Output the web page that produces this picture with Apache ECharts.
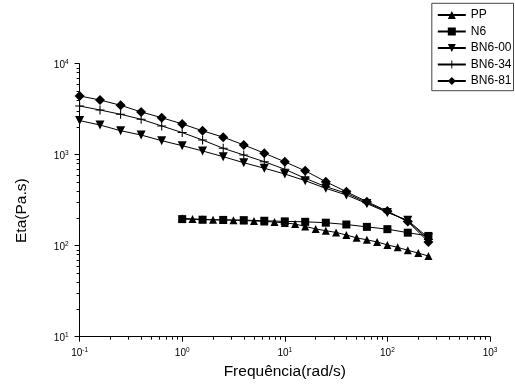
<!DOCTYPE html>
<html>
<head>
<meta charset="utf-8">
<script src="https://cdn.jsdelivr.net/npm/echarts@6/dist/echarts.min.js"></script>
<style>html,body{margin:0;padding:0;background:#fff;}#c{width:515px;height:392px;}</style>
</head>
<body>
<div id="c"></div>
<script>
// ---- data ----
const freqBN = [0.1, 0.158, 0.251, 0.398, 0.631, 1, 1.58, 2.51, 3.98, 6.31, 10, 15.8, 25.1, 39.8, 63.1, 100, 158, 251];
const bn6_81 = [4420, 3990, 3490, 2950, 2550, 2180, 1830, 1560, 1280, 1040, 835, 665, 505, 392, 305, 240, 184, 110];
const bn6_34 = [3430, 3100, 2780, 2450, 2070, 1750, 1450, 1175, 993, 838, 692, 550, 445, 377, 297, 236, 186, 117];
const bn6_00 = [2370, 2120, 1835, 1645, 1425, 1257, 1099, 951, 817, 710, 614, 518, 427, 361, 290, 232, 190, 122];
const freqN6 = [1, 1.58, 2.51, 3.98, 6.31, 10, 15.8, 25.1, 39.8, 63.1, 100, 158, 251];
const n6 = [196, 193, 192, 191, 188, 185, 183, 179, 171, 161, 152, 139, 128];
const freqPP = [1, 1.26, 1.58, 2, 2.51, 3.16, 3.98, 5.01, 6.31, 7.94, 10, 12.6, 15.8, 20, 25.1, 31.6, 39.8, 50.1, 63.1, 79.4, 100, 126, 158, 200, 251];
const pp = [200, 197, 195, 193, 192, 191, 189, 187, 185, 182, 178, 173, 163, 153, 146, 140, 131, 122, 116, 110, 102, 96, 89, 83, 77];
const seriesNames = ['PP', 'N6', 'BN6-00', 'BN6-34', 'BN6-81'];
const xDecades = [0.1, 1, 10, 100, 1000];
const yDecades = [10, 100, 1000, 10000];
const minorMult = [2, 3, 4, 5, 6, 7, 8, 9];

const FONT = 'Liberation Sans, Arial, sans-serif';
const zip = (a, b) => a.map((v, i) => [v, b[i]]);

function supLabel(v) {
  const e = Math.round(Math.log10(v));
  return '{b|10}{e|' + e + '}';
}
const rich = {
  b: { fontSize: 10, fontFamily: FONT, color: '#000', padding: [4, 0, 0, 0] },
  e: { fontSize: 6.5, fontFamily: FONT, color: '#000', padding: [0, 0, 3, 0] }
};

const xMinor = [], yMinor = [];
for (let i = 0; i < xDecades.length - 1; i++) minorMult.forEach(m => xMinor.push(+(xDecades[i] * m).toPrecision(6)));
for (let i = 0; i < yDecades.length - 1; i++) minorMult.forEach(m => yMinor.push(+(yDecades[i] * m).toPrecision(6)));

function lineSeries(name, xs, ys, symbol, size) {
  return {
    name, type: 'line', data: zip(xs, ys), symbol, symbolSize: size,
    showSymbol: true,
    lineStyle: { color: '#000', width: 1 },
    itemStyle: { color: '#000' },
    emphasis: { disabled: true },
    animation: false
  };
}

const axisLineStyle = { show: true, lineStyle: { color: '#000', width: 1 } };

const chart = echarts.init(document.getElementById('c'), null, { renderer: 'canvas' });
chart.setOption({
  backgroundColor: '#fff',
  animation: false,
  grid: { left: 79.6, right: 25, top: 63.7, bottom: 55.3, containLabel: false },
  legend: {
    data: seriesNames,
    orient: 'vertical',
    right: 1.5, top: 3.3,
    itemWidth: 28, itemHeight: 10, itemGap: 4.5,
    padding: [5.7, 2, 3.7, 5],
    borderColor: '#444', borderWidth: 1,
    textStyle: { fontSize: 12, fontFamily: FONT, color: '#000', lineHeight: 12 }
  },
  xAxis: [{
    type: 'log', logBase: 10, min: 0.1, max: 1000, position: 'bottom',
    name: 'Frequência(rad/s)', nameLocation: 'middle', nameGap: 26,
    nameTextStyle: { fontSize: 15.5, fontFamily: FONT, color: '#000' },
    axisLine: axisLineStyle,
    axisTick: { show: true, length: 5, lineStyle: { color: '#000', width: 1 } },
    axisLabel: { show: true, formatter: supLabel, rich, margin: 8 },
    splitLine: { show: false }
  }, {
    type: 'log', logBase: 10, min: 0.1, max: 1000, position: 'bottom', offset: 0,
    axisLine: { show: false },
    axisTick: { show: true, length: 3, customValues: xMinor, lineStyle: { color: '#000', width: 1 } },
    axisLabel: { show: false },
    splitLine: { show: false }
  }],
  yAxis: [{
    type: 'log', logBase: 10, min: 10, max: 10000, position: 'left',
    name: 'Eta(Pa.s)', nameLocation: 'middle', nameGap: 50,
    nameTextStyle: { fontSize: 15.5, fontFamily: FONT, color: '#000', padding: [0, 21, 0, 0] },
    axisLine: axisLineStyle,
    axisTick: { show: true, length: 5, lineStyle: { color: '#000', width: 1 } },
    axisLabel: { show: true, formatter: supLabel, rich, margin: 11 },
    splitLine: { show: false }
  }, {
    type: 'log', logBase: 10, min: 10, max: 10000, position: 'left', offset: 0,
    axisLine: { show: false },
    axisTick: { show: true, length: 3, customValues: yMinor, lineStyle: { color: '#000', width: 1 } },
    axisLabel: { show: false },
    splitLine: { show: false }
  }],
  series: [
    lineSeries('PP', freqPP, pp, 'triangle', 8),
    lineSeries('N6', freqN6, n6, 'rect', 8),
    lineSeries('BN6-00', freqBN, bn6_00, 'path://M0,0L2,0L1,1.8Z', 9),
    lineSeries('BN6-34', freqBN, bn6_34, 'path://M-5,-0.6L5,-0.6L5,0.6L-5,0.6Z M-0.6,-5L0.6,-5L0.6,5L-0.6,5Z', 9),
    lineSeries('BN6-81', freqBN, bn6_81, 'diamond', 10)
  ]
});
</script>
</body>
</html>
